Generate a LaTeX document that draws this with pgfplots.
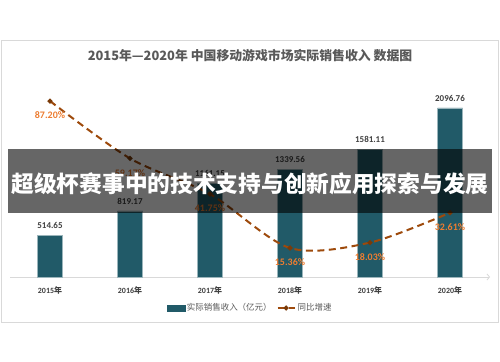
\documentclass[border=0pt]{standalone}
\usepackage{fontspec}
\setmainfont{Carlito}
\newfontfamily\cjk{Noto Sans CJK SC}
\usepackage{pgfplots}
\pgfplotsset{compat=1.18}
\pgfkeys{/pgf/number format/assume math mode=true}
\usetikzlibrary{arrows.meta}
\definecolor{barc}{HTML}{215A68}
\definecolor{linec}{HTML}{9E4A0C}
\definecolor{markc}{HTML}{7A3A08}
\definecolor{lblc}{HTML}{ED7D31}
\definecolor{txtc}{HTML}{404040}
\definecolor{ttlc}{HTML}{595959}
\definecolor{framec}{HTML}{D9D9D9}
\begin{document}
\begin{tikzpicture}
\path[use as bounding box, fill=white] (0,0) rectangle (500bp,362bp);
\draw[framec, line width=0.8bp] (1bp,40bp) rectangle (498bp,322bp);
\node[ttlc, font=\cjk\bfseries\fontsize{12.9}{14}\selectfont] at (250bp,306bp) {2015年—2020年 中国移动游戏市场实际销售收入 数据图};

\begin{axis}[
  at={(10bp,85bp)}, anchor=south west,
  scale only axis, width=480bp, height=201.5bp,
  xmin=-0.5, xmax=5.5, ymin=0, ymax=2500,
  axis x line*=bottom, axis y line=none,
  x axis line style={draw=framec, line width=0.8bp, -{Straight Barb[length=2.5bp,width=6bp]}},
  xtick={0,...,5},
  xticklabels={{\bfseries 2015{\cjk 年}},{\bfseries 2016{\cjk 年}},{\bfseries 2017{\cjk 年}},{\bfseries 2018{\cjk 年}},{\bfseries 2019{\cjk 年}},{\bfseries 2020{\cjk 年}}},
  xtick style={draw=none},
  xticklabel style={text=txtc, font=\fontsize{8}{9}\selectfont, yshift=-2bp},
  ytick=\empty,
  ybar, bar width=25bp,
  clip=false,
  nodes near coords={\pgfmathprintnumber[fixed,fixed zerofill,precision=2,1000 sep={},assume math mode=true]{\pgfplotspointmeta}},
  nodes near coords style={text=txtc, font=\bfseries\fontsize{9}{10}\selectfont, yshift=3bp},
]
\addplot[fill=barc, draw=barc!45!white, line width=0.6bp] coordinates {(0,514.65) (1,819.17) (2,1161.15) (3,1339.56) (4,1581.11) (5,2096.76)};
\end{axis}

\begin{axis}[
  at={(10bp,85bp)}, anchor=south west,
  scale only axis, width=480bp, height=201.5bp,
  xmin=-0.5, xmax=5.5, ymin=1.2, ymax=99.7,
  axis lines=none, xtick=\empty, ytick=\empty,
  clip=false,
  legend style={at={(0.5,-0.154)}, anchor=center, draw=none, fill=none,
    legend columns=-1, text=ttlc, font=\cjk\fontsize{8.5}{10}\selectfont,
    /tikz/every even column/.append style={column sep=3bp}},
  legend cell align=left,
]
\addlegendimage{legend image code/.code={\fill[barc] (0bp,-3bp) rectangle (18bp,3bp);}}
\addlegendentry{实际销售收入（亿元）}
\addplot[linec, line width=2bp, dash pattern=on 7bp off 4.5bp, smooth, tension=0.5,
  mark=*, mark size=1.4bp, mark options={solid, fill=markc, draw=markc},
  nodes near coords={\pgfmathprintnumber[fixed,fixed zerofill,precision=2,assume math mode=true]{\pgfplotspointmeta}\%},
  nodes near coords style={anchor=north, yshift=-6.5bp, text=lblc, font=\bfseries\fontsize{10}{11}\selectfont}]
  coordinates {(0,87.20) (1,59.17) (2,41.75) (3,15.36) (4,18.03) (5,32.61)};
\addlegendentry{同比增速}
\end{axis}

\fill[black, opacity=0.6] (8bp,149bp) rectangle (492bp,213bp);
\node[white, font=\cjk\bfseries\fontsize{22.8}{24}\selectfont] at (250bp,178bp) {超级杯赛事中的技术支持与创新应用探索与发展};
\end{tikzpicture}
\end{document}
